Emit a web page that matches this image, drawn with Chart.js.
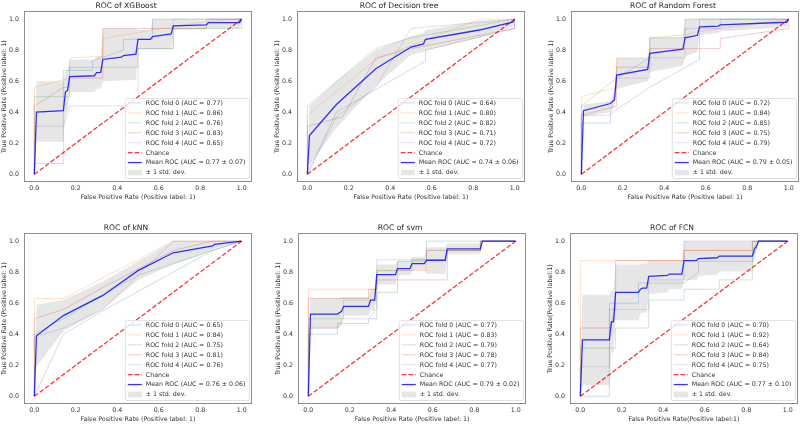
<!DOCTYPE html>
<html lang="en">
<head>
  <meta charset="UTF-8">
  <title>ROC curves</title>
  <script src="https://cdn.jsdelivr.net/npm/chart.js"></script>
  <style>
    html, body {
      margin: 0;
      padding: 0;
      background: #fff;
      overflow: hidden;
    }
    body {
      position: relative;
      width: 800px;
      height: 424px;
    }
    canvas {
      position: absolute;
    }
  </style>
</head>
<body>

  <canvas id="xgb" width="252" height="210" style="left:0px;top:0px"></canvas>
  <canvas id="dt" width="252" height="210" style="left:273px;top:0px"></canvas>
  <canvas id="rf" width="252" height="210" style="left:547px;top:0px"></canvas>
  <canvas id="knn" width="252" height="210" style="left:0px;top:222px"></canvas>
  <canvas id="svm" width="252" height="210" style="left:274px;top:222px"></canvas>
  <canvas id="fcn" width="252" height="210" style="left:546px;top:222px"></canvas>

  <script>
    // shared
    const tickValues = [0, 0.2, 0.4, 0.6, 0.8, 1.0];
    const chanceLine = [[0, 0], [1, 1]];
    const foldColors = ['#1f77b4', '#ff7f0e', '#2ca02c', '#d62728', '#9467bd'];

    // XGBoost
    const xgbFold0 = [[0,0],[0,0.07],[0.14,0.07],[0.14,0.67],[0.28,0.67],[0.28,0.73],[0.43,0.8],[0.43,0.87],[0.57,0.87],[0.57,1],[1,1]];
    const xgbFold1 = [[0,0],[0,0.56],[0.17,0.62],[0.17,0.75],[0.33,0.76],[0.33,0.875],[0.57,0.93],[0.83,0.985],[1,1]];
    const xgbFold2 = [[0,0],[0,0.5],[0.17,0.5],[0.17,0.69],[0.5,0.69],[0.5,0.81],[0.67,0.81],[0.67,0.94],[1,0.94],[1,1]];
    const xgbFold3 = [[0,0],[0,0.44],[0.14,0.56],[0.17,0.56],[0.17,0.62],[0.33,0.62],[0.33,0.94],[0.83,0.94],[0.83,1],[1,1]];
    const xgbFold4 = [[0,0],[0,0.31],[0.14,0.31],[0.17,0.44],[0.5,0.44],[0.5,0.81],[0.67,0.81],[0.67,1],[1,1]];
    const xgbMean = [[0,0],[0.01,0.40],[0.14,0.41],[0.15,0.53],[0.16,0.54],[0.17,0.63],[0.29,0.635],[0.30,0.655],[0.32,0.657],[0.33,0.74],[0.42,0.755],[0.43,0.765],[0.49,0.775],[0.5,0.87],[0.56,0.87],[0.57,0.888],[0.66,0.905],[0.67,0.957],[0.83,0.963],[0.84,0.978],[0.99,0.978],[1,1]];
    const xgbBandLo = [[0,0],[0.01,0.21],[0.14,0.21],[0.15,0.39],[0.16,0.41],[0.17,0.53],[0.29,0.53],[0.30,0.55],[0.32,0.55],[0.33,0.6],[0.49,0.61],[0.5,0.81],[0.56,0.81],[0.57,0.81],[0.66,0.81],[0.67,0.93],[0.83,0.935],[0.84,0.94],[0.99,0.94],[1,1]];
    const xgbBandHi = [[0,0],[0.01,0.6],[0.14,0.6],[0.15,0.66],[0.16,0.67],[0.17,0.74],[0.29,0.74],[0.30,0.76],[0.32,0.76],[0.33,0.94],[0.49,0.94],[0.5,0.93],[0.56,0.93],[0.57,1],[0.66,1],[0.67,1],[0.83,0.99],[0.84,1],[0.99,1],[1,1]];
    const xgbAuc = [0.77, 0.86, 0.76, 0.83, 0.65];
    const xgbMeanAuc = [0.77, 0.07];

    // Decision tree
    const dtFold0 = [[0,0],[0.14,0.4],[0.57,0.73],[0.57,0.8],[1,0.94],[1,1]];
    const dtFold1 = [[0,0],[0,0.38],[0.33,0.74],[0.83,1],[1,1]];
    const dtFold2 = [[0,0],[0,0.44],[0.33,0.81],[0.5,0.88],[1,1]];
    const dtFold3 = [[0,0],[0,0.31],[0.17,0.37],[0.33,0.75],[0.5,0.81],[1,0.94],[1,1]];
    const dtFold4 = [[0,0],[0.14,0.37],[0.33,0.56],[0.5,0.94],[1,1]];
    const dtMean = [[0,0],[0.01,0.25],[0.14,0.45],[0.33,0.68],[0.5,0.82],[0.56,0.84],[0.57,0.87],[0.83,0.93],[0.99,0.98],[1,1]];
    const dtBandLo = [[0,0],[0.01,0.06],[0.14,0.3],[0.33,0.57],[0.5,0.77],[0.56,0.79],[0.57,0.8],[0.83,0.88],[0.99,0.95],[1,1]];
    const dtBandHi = [[0,0],[0.01,0.44],[0.14,0.6],[0.33,0.8],[0.5,0.89],[0.56,0.91],[0.57,0.93],[0.83,0.99],[0.99,1],[1,1]];
    const dtAuc = [0.64, 0.80, 0.82, 0.71, 0.72];
    const dtMeanAuc = [0.74, 0.06];

    // Random Forest
    const rfFold0 = [[0,0],[0,0.33],[0.14,0.33],[0.14,0.39],[0.33,0.56],[0.57,0.74],[0.57,1],[1,1]];
    const rfFold1 = [[0,0],[0,0.5],[0.17,0.56],[0.17,0.75],[0.33,0.75],[0.33,0.88],[0.5,0.9],[0.57,0.92],[1,1]];
    const rfFold2 = [[0,0],[0,0.44],[0.17,0.62],[0.33,0.75],[0.33,0.88],[0.5,0.88],[0.5,1],[1,1]];
    const rfFold3 = [[0,0],[0,0.38],[0.17,0.44],[0.17,0.69],[0.33,0.69],[0.33,0.81],[0.67,0.81],[0.67,0.875],[1,0.94],[1,1]];
    const rfFold4 = [[0,0],[0,0.38],[0.14,0.38],[0.17,0.62],[0.33,0.62],[0.33,0.75],[0.5,0.75],[0.5,0.94],[0.67,0.94],[0.67,1],[1,1]];
    const rfMean = [[0,0],[0.01,0.41],[0.14,0.456],[0.16,0.48],[0.17,0.64],[0.32,0.676],[0.33,0.78],[0.49,0.806],[0.5,0.88],[0.56,0.896],[0.57,0.95],[0.66,0.955],[0.67,0.963],[0.99,0.98],[1,1]];
    const rfBandLo = [[0,0],[0.01,0.37],[0.14,0.4],[0.16,0.44],[0.17,0.55],[0.32,0.6],[0.33,0.66],[0.49,0.7],[0.5,0.76],[0.56,0.79],[0.57,0.9],[0.66,0.91],[0.67,0.92],[0.99,0.95],[1,1]];
    const rfBandHi = [[0,0],[0.01,0.45],[0.14,0.47],[0.16,0.52],[0.17,0.75],[0.32,0.75],[0.33,0.88],[0.49,0.88],[0.5,1],[0.56,1],[0.57,1],[0.66,1],[0.67,1],[0.99,1],[1,1]];
    const rfAuc = [0.72, 0.84, 0.85, 0.75, 0.79];
    const rfMeanAuc = [0.79, 0.05];

    // kNN
    const knnFold0 = [[0,0],[0.14,0.4],[0.33,0.55],[0.86,0.94],[1,1]];
    const knnFold1 = [[0,0],[0,0.63],[0.14,0.63],[0.67,1],[1,1]];
    const knnFold2 = [[0,0],[0,0.4],[0.14,0.5],[0.33,0.65],[0.5,0.78],[0.86,0.94],[1,1]];
    const knnFold3 = [[0,0],[0,0.5],[0.14,0.56],[0.33,0.7],[0.67,0.94],[0.86,1],[1,1]];
    const knnFold4 = [[0,0],[0,0.38],[0.14,0.44],[0.33,0.56],[0.67,1],[1,1]];
    const knnMean = [[0,0],[0.01,0.39],[0.14,0.52],[0.33,0.65],[0.5,0.81],[0.67,0.925],[0.86,0.97],[0.87,0.98],[1,1]];
    const knnBandLo = [[0,0],[0.01,0.19],[0.14,0.42],[0.33,0.56],[0.5,0.75],[0.67,0.85],[0.86,0.94],[0.87,0.955],[1,1]];
    const knnBandHi = [[0,0],[0.01,0.59],[0.14,0.62],[0.33,0.74],[0.5,0.87],[0.67,1],[0.86,1],[0.87,1],[1,1]];
    const knnAuc = [0.65, 0.84, 0.75, 0.81, 0.76];
    const knnMeanAuc = [0.76, 0.06];

    // svm
    const svmFold0 = [[0,0],[0,0.4],[0.14,0.4],[0.14,0.47],[0.29,0.47],[0.29,0.5],[0.33,0.5],[0.33,0.67],[0.43,0.67],[0.43,0.87],[0.57,0.87],[0.57,1],[1,1]];
    const svmFold1 = [[0,0],[0,0.69],[0.33,0.69],[0.33,0.81],[0.57,0.81],[0.57,0.94],[0.83,0.94],[0.83,1],[1,1]];
    const svmFold2 = [[0,0],[0,0.5],[0.17,0.5],[0.17,0.62],[0.33,0.62],[0.33,0.81],[0.5,0.81],[0.5,0.88],[0.67,0.88],[0.67,0.94],[0.83,0.94],[0.83,1],[1,1]];
    const svmFold3 = [[0,0],[0,0.63],[0.29,0.63],[0.29,0.69],[0.33,0.69],[0.33,0.75],[0.67,0.75],[0.67,0.94],[0.83,0.94],[0.83,1],[1,1]];
    const svmFold4 = [[0,0],[0,0.44],[0.14,0.44],[0.17,0.5],[0.29,0.5],[0.33,0.56],[0.33,0.88],[0.57,0.88],[0.57,0.94],[0.83,0.94],[0.83,1],[1,1]];
    const svmMean = [[0,0],[0.01,0.53],[0.14,0.53],[0.16,0.547],[0.17,0.58],[0.29,0.58],[0.3,0.62],[0.32,0.62],[0.33,0.784],[0.42,0.784],[0.43,0.823],[0.49,0.823],[0.5,0.855],[0.56,0.855],[0.57,0.877],[0.66,0.877],[0.67,0.95],[0.83,0.95],[0.84,1],[1,1]];
    const svmBandLo = [[0,0],[0.01,0.435],[0.14,0.435],[0.16,0.455],[0.17,0.52],[0.29,0.52],[0.3,0.55],[0.32,0.55],[0.33,0.72],[0.42,0.72],[0.43,0.78],[0.49,0.78],[0.5,0.81],[0.56,0.81],[0.57,0.79],[0.66,0.79],[0.67,0.915],[0.83,0.915],[0.84,1],[1,1]];
    const svmBandHi = [[0,0],[0.01,0.63],[0.14,0.63],[0.16,0.64],[0.17,0.64],[0.29,0.64],[0.3,0.69],[0.32,0.69],[0.33,0.85],[0.42,0.85],[0.43,0.87],[0.49,0.87],[0.5,0.9],[0.56,0.9],[0.57,0.96],[0.66,0.96],[0.67,0.985],[0.83,0.985],[0.84,1],[1,1]];
    const svmAuc = [0.77, 0.83, 0.79, 0.78, 0.77];
    const svmMeanAuc = [0.79, 0.02];

    // FCN
    const fcnFold0 = [[0,0],[0.14,0],[0.14,0.6],[0.28,0.6],[0.28,0.73],[0.5,0.73],[0.57,0.8],[0.57,0.87],[0.83,0.87],[0.86,1],[1,1]];
    const fcnFold1 = [[0,0],[0,0.875],[0.5,0.875],[0.5,0.94],[0.83,0.94],[0.85,1],[1,1]];
    const fcnFold2 = [[0,0],[0,0.31],[0.17,0.31],[0.17,0.44],[0.33,0.44],[0.33,0.62],[0.5,0.62],[0.5,0.69],[0.67,0.69],[0.67,0.75],[0.83,0.75],[0.83,1],[1,1]];
    const fcnFold3 = [[0,0],[0,0.44],[0.14,0.44],[0.17,0.56],[0.17,0.875],[0.5,0.875],[0.5,0.94],[0.83,0.94],[0.83,1],[1,1]];
    const fcnFold4 = [[0,0],[0,0.19],[0.14,0.19],[0.14,0.56],[0.33,0.56],[0.33,0.75],[0.5,0.75],[0.5,1],[1,1]];
    const fcnMean = [[0,0],[0.01,0.363],[0.14,0.363],[0.15,0.48],[0.16,0.48],[0.17,0.67],[0.28,0.67],[0.29,0.69],[0.3,0.697],[0.32,0.697],[0.33,0.773],[0.42,0.78],[0.43,0.788],[0.49,0.788],[0.5,0.875],[0.56,0.875],[0.57,0.888],[0.66,0.893],[0.67,0.903],[0.83,0.903],[0.84,0.95],[0.85,0.968],[0.86,1],[1,1]];
    const fcnBandLo = [[0,0],[0.01,0.071],[0.14,0.071],[0.15,0.28],[0.16,0.28],[0.17,0.49],[0.28,0.49],[0.29,0.53],[0.3,0.54],[0.32,0.54],[0.33,0.66],[0.42,0.67],[0.43,0.69],[0.49,0.69],[0.5,0.75],[0.56,0.75],[0.57,0.775],[0.66,0.785],[0.67,0.805],[0.83,0.805],[0.84,0.9],[0.85,0.936],[0.86,1],[1,1]];
    const fcnBandHi = [[0,0],[0.01,0.654],[0.14,0.654],[0.15,0.68],[0.16,0.68],[0.17,0.85],[0.28,0.85],[0.29,0.85],[0.3,0.855],[0.32,0.855],[0.33,0.875],[0.42,0.875],[0.43,0.875],[0.49,0.875],[0.5,1],[0.56,1],[0.57,1],[0.66,1],[0.67,1],[0.83,1],[0.84,1],[0.85,1],[0.86,1],[1,1]];
    const fcnAuc = [0.70, 0.92, 0.64, 0.84, 0.75];
    const fcnMeanAuc = [0.77, 0.10];

    const fontFamily = '"DejaVu Sans", sans-serif';
    const textColor = '#333';

    function withAlpha(hex, a) {
      const n = parseInt(hex.slice(1), 16);
      return `rgba(${n >> 16}, ${(n >> 8) & 255}, ${n & 255}, ${a})`;
    }

    // box around the axes + legend in the lower right corner
    const rocDecor = {
      id: 'rocDecor',
      afterDatasetsDraw(chart) {
        const { ctx, chartArea: a } = chart;
        ctx.save();
        ctx.strokeStyle = '#8c8c8c';
        ctx.lineWidth = 1;
        ctx.strokeRect(Math.round(a.left) + 0.5, Math.round(a.top) + 0.5,
          Math.round(a.right - a.left) - 1, Math.round(a.bottom - a.top) - 1);

        const items = chart.data.datasets.filter(d => d.label);
        ctx.font = `6.3px ${fontFamily}`;
        const textW = Math.max(...items.map(d => ctx.measureText(d.label).width));
        const rowH = 9.94, handleW = 14, gap = 4, padL = 2.5, padR = 4;
        const w = padL + handleW + gap + textW + padR;
        const h = 10.4 + (items.length - 1) * rowH;
        const x0 = a.right - 2.5 - w;
        const y0 = a.bottom - 3.5 - h;

        ctx.beginPath();
        ctx.roundRect(x0, y0, w, h, 2);
        ctx.fillStyle = 'rgba(255,255,255,0.8)';
        ctx.fill();
        ctx.strokeStyle = '#d9d9d9';
        ctx.lineWidth = 0.8;
        ctx.stroke();

        items.forEach((d, i) => {
          const cy = y0 + 4.4 + i * rowH;
          const hx = x0 + padL;
          if (d.patch) {
            ctx.fillStyle = d.backgroundColor;
            ctx.fillRect(hx, cy - 2.8, handleW, 5.6);
          } else {
            ctx.beginPath();
            ctx.setLineDash(d.borderDash || []);
            ctx.strokeStyle = d.borderColor;
            ctx.lineWidth = d.borderWidth;
            ctx.moveTo(hx, cy);
            ctx.lineTo(hx + handleW, cy);
            ctx.stroke();
            ctx.setLineDash([]);
          }
          ctx.fillStyle = textColor;
          ctx.textAlign = 'left';
          ctx.textBaseline = 'middle';
          ctx.fillText(d.label, hx + handleW + gap, cy + 0.3);
        });
        ctx.restore();
      }
    };

    function rocChart(id, title, folds, aucs, mean, meanAuc, bandLo, bandHi, xLabel, yLabel) {
      const datasets = folds.map((f, i) => ({
        label: `ROC fold ${i} (AUC = ${aucs[i].toFixed(2)})`,
        data: f,
        borderColor: withAlpha(foldColors[i], 0.3),
        borderWidth: 0.8,
        order: 2
      }));
      datasets.push({
        label: 'Chance',
        data: chanceLine,
        borderColor: 'rgba(255,0,0,0.8)',
        borderWidth: 1.3,
        borderDash: [4.7, 2],
        order: 1
      });
      datasets.push({
        label: `Mean ROC (AUC = ${meanAuc[0].toFixed(2)} \u00b1 ${meanAuc[1].toFixed(2)})`,
        data: mean,
        borderColor: 'rgba(0,0,255,0.8)',
        borderWidth: 1.3,
        order: 0
      });
      datasets.push({
        label: '',
        data: bandLo,
        borderColor: 'rgba(0,0,0,0)',
        borderWidth: 1,
        order: 3
      });
      datasets.push({
        label: '\u00b1 1 std. dev.',
        data: bandHi,
        borderColor: 'rgba(0,0,0,0)',
        borderWidth: 1,
        backgroundColor: 'rgba(128,128,128,0.2)',
        fill: '-1',
        order: 3,
        patch: true
      });

      const tickFont = { family: fontFamily, size: 6.3 };

      new Chart(document.getElementById(id), {
        type: 'line',
        data: { datasets },
        options: {
          responsive: false,
          animation: false,
          events: [],
          layout: { padding: 0 },
          elements: {
            point: { radius: 0 },
            line: { tension: 0, fill: false }
          },
          plugins: {
            legend: { display: false },
            tooltip: { enabled: false },
            title: {
              display: true,
              text: title,
              color: '#262626',
              font: { family: fontFamily, size: 7.6, weight: 'normal', lineHeight: 1.5 },
              padding: 0
            }
          },
          scales: {
            x: {
              type: 'linear',
              min: -0.05,
              max: 1.05,
              afterBuildTicks: s => { s.ticks = tickValues.map(v => ({ value: v })); },
              afterFit: s => { s.height = 28; },
              grid: { display: false, drawTicks: false },
              border: { display: false },
              ticks: {
                padding: 3,
                color: textColor,
                font: tickFont,
                maxRotation: 0,
                autoSkip: false,
                callback: v => v.toFixed(1)
              },
              title: {
                display: true,
                text: xLabel,
                color: textColor,
                font: tickFont,
                padding: { top: 0, bottom: 8.5 }
              }
            },
            y: {
              type: 'linear',
              min: -0.05,
              max: 1.05,
              afterBuildTicks: s => { s.ticks = tickValues.map(v => ({ value: v })); },
              afterFit: s => { s.width = 24; },
              grid: { display: false, drawTicks: false },
              border: { display: false },
              ticks: {
                padding: 5,
                color: textColor,
                font: tickFont,
                autoSkip: false,
                callback: v => v.toFixed(1)
              },
              title: {
                display: true,
                text: yLabel,
                color: textColor,
                font: tickFont,
                padding: { top: 1, bottom: 0 }
              }
            }
          }
        },
        plugins: [rocDecor]
      });
    }

    const xStd = 'False Positive Rate (Positive label: 1)';
    const yStd = 'True Positive Rate (Positive label: 1)';

    rocChart('xgb', 'ROC of XGBoost', [xgbFold0, xgbFold1, xgbFold2, xgbFold3, xgbFold4], xgbAuc, xgbMean, xgbMeanAuc, xgbBandLo, xgbBandHi, xStd, yStd);
    rocChart('dt', 'ROC of Decision tree', [dtFold0, dtFold1, dtFold2, dtFold3, dtFold4], dtAuc, dtMean, dtMeanAuc, dtBandLo, dtBandHi, xStd, yStd);
    rocChart('rf', 'ROC of Random Forest', [rfFold0, rfFold1, rfFold2, rfFold3, rfFold4], rfAuc, rfMean, rfMeanAuc, rfBandLo, rfBandHi, xStd, yStd);
    rocChart('knn', 'ROC of kNN', [knnFold0, knnFold1, knnFold2, knnFold3, knnFold4], knnAuc, knnMean, knnMeanAuc, knnBandLo, knnBandHi, xStd, yStd);
    rocChart('svm', 'ROC of svm', [svmFold0, svmFold1, svmFold2, svmFold3, svmFold4], svmAuc, svmMean, svmMeanAuc, svmBandLo, svmBandHi, xStd, yStd);
    rocChart('fcn', 'ROC of FCN', [fcnFold0, fcnFold1, fcnFold2, fcnFold3, fcnFold4], fcnAuc, fcnMean, fcnMeanAuc, fcnBandLo, fcnBandHi,
      'False Positive Rate(Positive label:1)', 'True Positive Rate(Positive label:1)');
  </script>
</body>
</html>
